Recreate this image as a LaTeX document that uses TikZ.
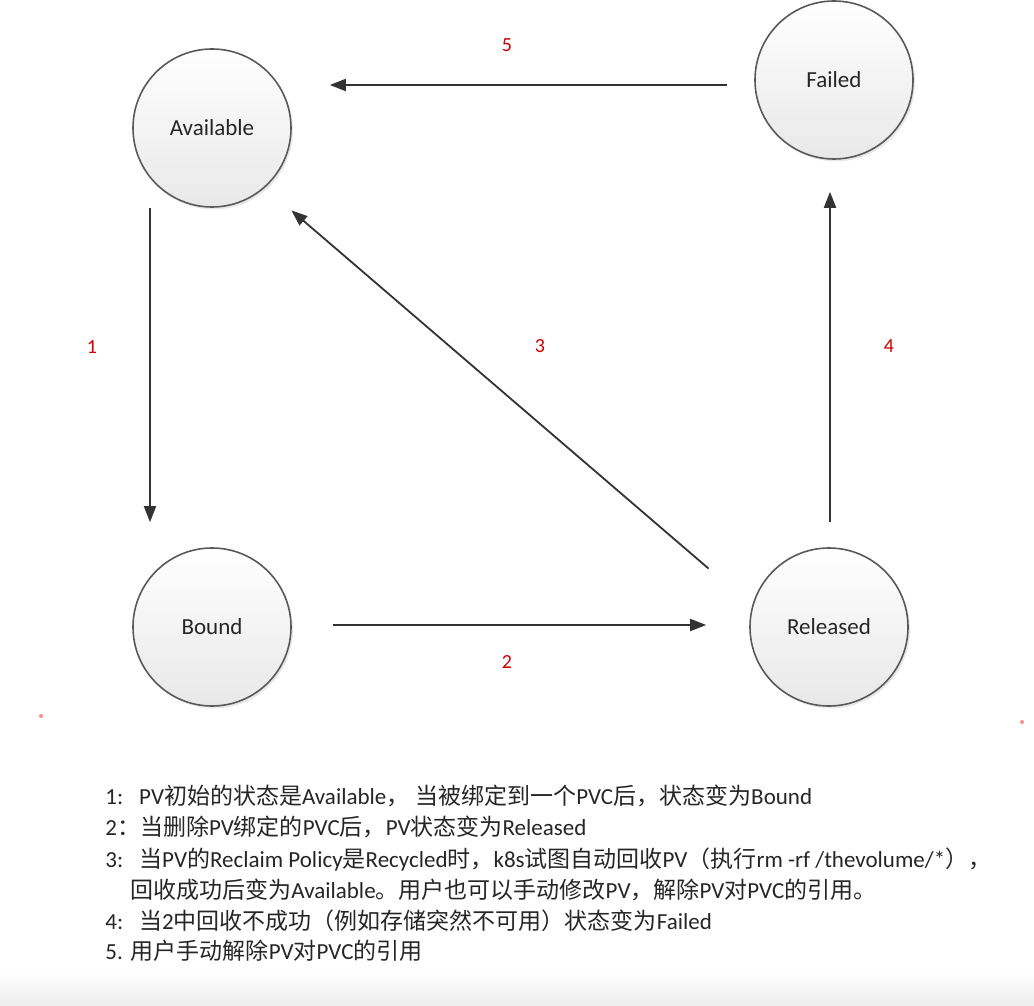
\documentclass[tikz,border=0pt]{standalone}
\usepackage{fontspec}
\setmainfont{Carlito}
\newfontfamily\cjk{Noto Sans CJK SC}
\newcommand{\zh}[1]{{\cjk #1}}
\usetikzlibrary{arrows.meta,shadows,calc}

\tikzset{
  state/.style={circle, draw=black!65, line width=0.8pt, minimum size=79pt,
    top color=white, bottom color=black!9,
    drop shadow={opacity=0.18, shadow xshift=1pt, shadow yshift=-1.2pt},
    font=\fontsize{11.5}{13}\selectfont, text=black!85},
  trans/.style={draw=black!80, line width=0.9pt, -{Triangle[length=8pt,width=6pt]}},
  num/.style={text=red!80!black, font=\fontsize{10}{12}\selectfont},
  note/.style={anchor=west, inner sep=0pt, text=black!85, font=\fontsize{11.5}{13}\selectfont}
}

\begin{document}
\begin{tikzpicture}[x=0.5pt, y=-0.5pt]
    \useasboundingbox (0,0) rectangle (1034,1006);
    \fill[white] (0,0) rectangle (1034,1006);
    \shade[top color=white, bottom color=black!7] (0,972) rectangle (1034,1006);

    % states
    \node[state] (avail) at (212,128) {Available};
    \node[state] (failed) at (834,80) {Failed};
    \node[state] (bound) at (212,627) {Bound};
    \node[state] (released) at (829,627) {Released};

    % transitions
    \draw[trans] ($(avail.south)+(-62,0)$) -- ($(bound.north)+(-62,-25)$);
    \draw[trans] ($(bound.east)+(41,-2)$) -- ($(released.west)+(-43,-2)$);
    \draw[trans] ($(released.north west)+(-64,-2)$) -- ($(avail.south east)+(23,26)$);
    \draw[trans] ($(released.north)+(1,-25)$) -- ($(failed.south)+(-4,32)$);
    \draw[trans] ($(failed.west)+(-27,5)$) -- ($(avail.east)+(38,-43)$);

    \node[num] (n1) at (92,347) {1};
    \node[num] (n2) at (507,662) {2};
    \node[num] (n3) at (540,346) {3};
    \node[num] (n4) at (889,346) {4};
    \node[num] (n5) at (507,45) {5};

    % stray marks
    \fill[red!45] (41,716) circle (1pt);
    \fill[red!45] (1022,722) circle (1pt);

    % notes
    \node[note] (l1) at (105,796) {1:\hspace{8pt}PV\zh{初始的状态是}Available\zh{，\hspace{3pt}当被绑定到一个}PVC\zh{后，状态变为}Bound};
    \node[note] (l2) at (105,827) {2\zh{：}\zh{当删除}PV\zh{绑定的}PVC\zh{后，}PV\zh{状态变为}Released};
    \node[note] (l3) at (105,860) {3:\hspace{8pt}\zh{当}PV\zh{的}Reclaim Policy\zh{是}Recycled\zh{时，}k8s\zh{试图自动回收}PV\zh{（执行}rm -rf /thevolume/*\zh{），}};
    \node[note] (l3b) at (130,890) {\zh{回收成功后变为}Available\zh{。用户也可以手动修改}PV\zh{，解除}PV\zh{对}PVC\zh{的引用。}};
    \node[note] (l4) at (105,921) {4:\hspace{8pt}\zh{当}2\zh{中回收不成功（例如存储突然不可用）状态变为}Failed};
    \node[note] (l5) at (105,951) {5.\hspace{4pt}\zh{用户手动解除}PV\zh{对}PVC\zh{的引用}};
\end{tikzpicture}
\end{document}
